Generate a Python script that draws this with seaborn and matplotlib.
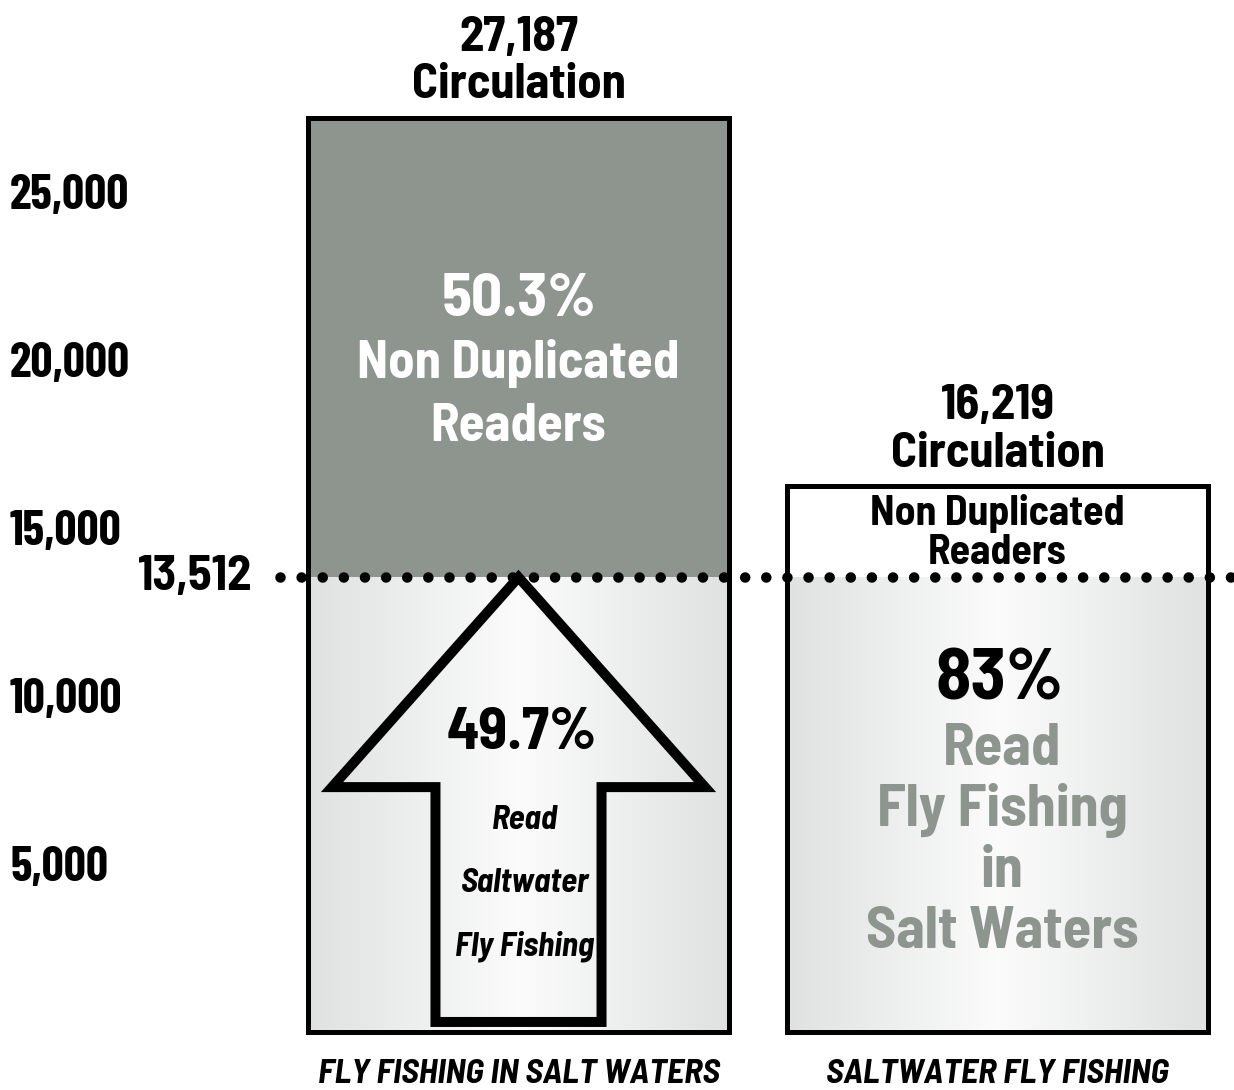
import numpy as np
import matplotlib
matplotlib.use("Agg")
import matplotlib.pyplot as plt
from matplotlib import font_manager
from matplotlib.patches import Polygon
import matplotlib.transforms as mtransforms
import seaborn as sns
import pandas as pd

# ---------------- data ----------------
categories = ["FLY FISHING IN SALT WATERS", "SALTWATER FLY FISHING"]
circulation = [27187, 16219]
shared_readers = [13512, 13512]
circ_labels = ["27,187", "16,219"]
shared_label = "13,512"
ytick_values = [5000, 10000, 15000, 20000, 25000]
ytick_labels = ["5,000", "10,000", "15,000", "20,000", "25,000"]
pct_nondup_left = "50.3%"
pct_shared_left = "49.7%"
pct_shared_right = "83%"

# ---------------- style ----------------
sns.set_theme(style="white")
available = {f.name for f in font_manager.fontManager.ttflist}
family = [f for f in ["Barlow Semi Condensed", "Barlow Condensed", "Roboto Condensed",
                      "Liberation Sans", "DejaVu Sans"] if f in available]
tick_family = [f for f in ["Barlow Condensed", "Barlow Semi Condensed",
                           "Liberation Sans", "DejaVu Sans"] if f in available]
plt.rcParams["font.family"] = family
plt.rcParams["font.weight"] = "bold"

GRAY = "#8d958e"
DPI = 100
fig = plt.figure(figsize=(12.34, 10.9), dpi=DPI)
ax = fig.add_axes([0, 0, 1, 1])
ax.set_facecolor("white")

df = pd.DataFrame({"cat": categories, "total": circulation, "shared": shared_readers})
BW = 0.88

# total bars (top segment colours)
sns.barplot(data=df, x="cat", y="total", hue="cat", palette=[GRAY, "white"],
            saturation=1, width=BW, legend=False, ax=ax, linewidth=0, zorder=1)
n0 = len(ax.patches)
# shared-reader segment
sns.barplot(data=df, x="cat", y="shared", color="#e6e8e7", saturation=1,
            width=BW, ax=ax, linewidth=0, zorder=2)
bottom_patches = ax.patches[n0:]

# horizontal gradient for the lower segments
edge_c = np.array([0.875, 0.886, 0.882])
center_c = np.array([0.985, 0.985, 0.985])
t = np.linspace(-1, 1, 400)
w = (1 - np.abs(t))[None, :, None]
grad = edge_c + (center_c - edge_c) * w
for p in bottom_patches:
    x0, y0 = p.get_x(), p.get_y()
    x1, y1 = x0 + p.get_width(), y0 + p.get_height()
    ax.imshow(grad, extent=(x0, x1, y0, y1), aspect="auto", zorder=2.5,
              interpolation="bilinear")

# outlines
n1 = len(ax.patches)
sns.barplot(data=df, x="cat", y="total", fill=False, color="black", saturation=1,
            width=BW, ax=ax, linewidth=3.6, zorder=5)
for p in ax.patches[n1:]:
    p.set_joinstyle("miter")

# arrow inside left bar
lp = bottom_patches[0]
cx = lp.get_x() + lp.get_width() / 2
bw = lp.get_width()
top = lp.get_y() + lp.get_height()
head_y = top * 0.538
base_y = top * 0.021
hw = bw * 0.4425
sw = bw * 0.197
verts = [(cx - sw, base_y), (cx - sw, head_y), (cx - hw, head_y), (cx, top),
         (cx + hw, head_y), (cx + sw, head_y), (cx + sw, base_y)]
ax.add_patch(Polygon(verts, closed=True, facecolor="none", edgecolor="black",
                     linewidth=7.2, joinstyle="miter", zorder=4))

# dotted reference line
ax.axhline(shared_readers[0], xmin=280 / 1234, xmax=1, color="black",
           linewidth=7.6, linestyle=(0, (0.001, 2.0)), dash_capstyle="round",
           solid_capstyle="round", zorder=6)
blend = mtransforms.blended_transform_factory(ax.transAxes, ax.transData)
ax.text(252 / 1234, shared_readers[0], shared_label, transform=blend, ha="right",
        va="center", fontsize=35, color="black", fontweight="bold")

# limits (figure-wide axes)
PX_PER_X = 479.0
PX_PER_Y = 914.0 / circulation[0]
ax.set_xlim(-518.5 / PX_PER_X, (1234 - 518.5) / PX_PER_X)
ax.set_ylim(-(1090 - 1031.5) / PX_PER_Y, 1031.5 / PX_PER_Y)


def label(x, y, dy_px, s, size, color="black", style="normal"):
    ax.annotate(s, xy=(x, y), xytext=(0, dy_px), textcoords="offset pixels",
                ha="center", va="baseline", fontsize=size, color=color,
                fontstyle=style, fontweight="bold", zorder=8)


bars = ax.patches[:n0]
for i, p in enumerate(bars):
    c = p.get_x() + p.get_width() / 2
    h = p.get_height()
    label(c, h, 67, circ_labels[i], 35)
    label(c, h, 19, "Circulation", 35)

# left bar upper (gray) segment
lc = cx
mid_left = (shared_readers[0] + circulation[0]) / 2
label(lc, mid_left, 31, pct_nondup_left, 44, "white")
label(lc, mid_left, -31, "Non Duplicated", 38, "white")
label(lc, mid_left, -94, "Readers", 38, "white")

# arrow texts
label(lc + 0.006, 0, 282.5, pct_shared_left, 43)
label(lc + 0.013, 0, 202.5, "Read", 24, style="italic")
label(lc + 0.013, 0, 139.5, "Saltwater", 24, style="italic")
label(lc + 0.013, 0, 75.5, "Fly Fishing", 24, style="italic")

# right bar
rp = bars[1]
rc = rp.get_x() + rp.get_width() / 2
rtop = rp.get_height()
label(rc, rtop, -39, "Non Duplicated", 30)
label(rc, rtop, -78, "Readers", 30)
label(rc + 0.005, 0, 332.5, pct_shared_right, 52)
label(rc + 0.01, 0, 266.5, "Read", 42, GRAY)
label(rc + 0.01, 0, 205.5, "Fly Fishing", 42, GRAY)
label(rc + 0.01, 0, 144.5, "in", 42, GRAY)
label(rc + 0.01, 0, 83.5, "Salt Waters", 42, GRAY)

# axes decorations
ax.set_xlabel("")
ax.set_ylabel("")
for s in ax.spines.values():
    s.set_visible(False)
ax.set_yticks(ytick_values)
ax.set_yticklabels(ytick_labels, ha="left", fontsize=35, color="black",
                   fontweight="bold", family=tick_family)
ax.tick_params(axis="y", length=0, pad=-7.2, labelcolor="black")
ax.tick_params(axis="x", length=0, pad=-22.0, labelcolor="black")
for lbl in ax.get_xticklabels():
    lbl.set_fontstyle("italic")
    lbl.set_fontsize(25)
    lbl.set_fontweight("bold")
ax.grid(False)

fig.savefig("out.png", dpi=DPI, facecolor="white")
